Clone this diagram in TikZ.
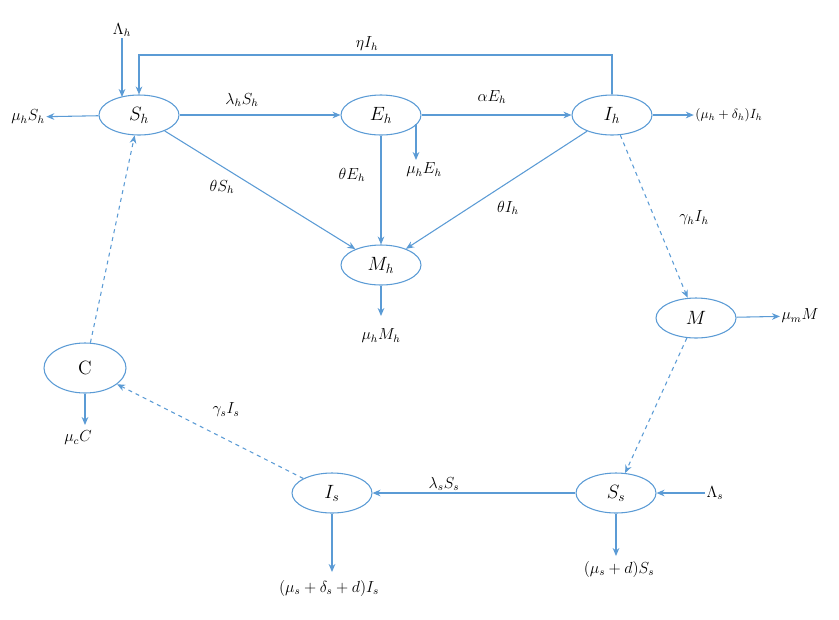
\documentclass[tikz,border=0pt]{standalone}
\usetikzlibrary{shapes.geometric,arrows.meta}
\definecolor{ln}{RGB}{91,155,213}
\begin{document}
\begin{tikzpicture}[x=0.75pt,y=-0.75pt,
 st/.style={ellipse,draw=ln,thick,minimum width=80*0.75pt,minimum height=40*0.75pt,inner sep=0pt,font=\Large},
 ar/.style={draw=ln,thick,-{Stealth[length=6pt,width=5pt]}},
 da/.style={ar,dashed},
 lb/.style={font=\large,inner sep=1pt}]
\useasboundingbox (0,0) rectangle (839,619);
\node[st] (Sh) at (139,115) {$S_h$};
\node[st] (Eh) at (381,115) {$E_h$};
\node[st] (Ih) at (612,115) {$I_h$};
\node[st] (Mh) at (381,265) {$M_h$};
\node[st] (M) at (696,318) {$M$};
\node[st,minimum width=82*0.75pt,minimum height=50*0.75pt] (C) at (85,368) {C};
\node[st] (Is) at (332,493) {$I_s$};
\node[st] (Ss) at (616,493) {$S_s$};
% labels
\node[lb] (Lh) at (122,30) {$\Lambda_h$};
\node[lb] (muSh) at (28,117) {$\mu_h S_h$};
\node[lb] at (242,100) {$\lambda_h S_h$};
\node[lb] at (492,97) {$\alpha E_h$};
\node[lb] at (367,44) {$\eta I_h$};
\node[lb,font=\normalsize] (oIh) at (729,115) {$(\mu_h+\delta_h)I_h$};
\node[lb] (muEh) at (424,170) {$\mu_h E_h$};
\node[lb] at (352,175) {$\theta E_h$};
\node[lb] at (222,187) {$\theta S_h$};
\node[lb] at (508,208) {$\theta I_h$};
\node[lb] (muMh) at (381,336) {$\mu_h M_h$};
\node[lb] at (694,218) {$\gamma_h I_h$};
\node[lb] (muM) at (800,316) {$\mu_m M$};
\node[lb] at (444,484) {$\lambda_s S_s$};
\node[lb] (Ls) at (715,493) {$\Lambda_s$};
\node[lb] (oSs) at (619,569) {$(\mu_s+d)S_s$};
\node[lb] (oIs) at (329,588) {$(\mu_s+\delta_s+d)I_s$};
\node[lb] at (226,410) {$\gamma_s I_s$};
\node[lb] (muC) at (78,438) {$\mu_c C$};
\coordinate (eEh) at (416,160);
\coordinate (eMh) at (381,316);
\coordinate (eSs) at (616,556);
\coordinate (eIs) at (332,572);
\coordinate (eC) at (85,425);
\coordinate (eLh) at (122,97);
% arrows
\draw[ar] (Lh) -- (eLh);
\draw[ar] (Ih.north) -- (612,55) -- (139,55) -- (Sh.north);
\draw[ar] (Sh) -- (muSh);
\draw[ar] (Sh) -- (Eh);
\draw[ar] (Eh) -- (Ih);
\draw[ar] (Ih) -- (oIh);
\draw[ar] (416,124) -- (eEh);
\draw[ar] (Eh) -- (Mh);
\draw[ar] (Sh) -- (Mh);
\draw[ar] (Ih) -- (Mh);
\draw[ar] (Mh) -- (eMh);
\draw[da] (Ih) -- (M);
\draw[ar] (M) -- (muM);
\draw[da] (M) -- (Ss);
\draw[ar] (Ss) -- (Is);
\draw[ar] (Ls) -- (Ss);
\draw[ar] (Ss) -- (eSs);
\draw[ar] (Is) -- (eIs);
\draw[da] (Is) -- (C);
\draw[ar] (C) -- (eC);
\draw[da] (C) -- (Sh);
\end{tikzpicture}
\end{document}
